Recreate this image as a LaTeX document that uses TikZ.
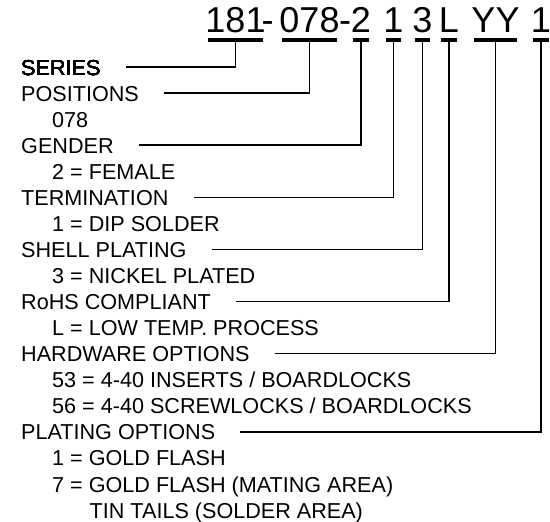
\documentclass[tikz,border=0pt]{standalone}
\usepackage{fontspec}
\setmainfont{Liberation Sans}
\tikzset{
  lbl/.style={anchor=base west,inner sep=0pt,font=\fontsize{21.6}{24}\selectfont},
  pn/.style={anchor=base,inner sep=0pt,font=\fontsize{36}{40}\selectfont},
  uln/.style={line width=3.5pt},
  lead/.style={line width=1.5pt},
}
% underline one field of the part number
\newcommand{\fieldline}[1]{\draw[uln] ([xshift=2.5pt,yshift=-7pt]#1.base west) -- ([xshift=-2.5pt,yshift=-7pt]#1.base east);}
\begin{document}
\begin{tikzpicture}[x=1pt,y=-1pt]
\useasboundingbox (0,0) rectangle (550,522);
% part number
\node[pn] (pser) at (235.5,33) {181};
\node[pn] (dasha) at (267.5,33) {-};
\node[pn] (ppos) at (309.5,33) {078};
\node[pn] (dashb) at (345,33) {-};
\node[pn] (pgen) at (361,33) {2};
\node[pn] (pterm) at (393.5,33) {1};
\node[pn] (pshell) at (422.5,33) {3};
\node[pn] (prohs) at (449,33) {L};
\node[pn] (phard) at (495.5,33) {YY};
\node[pn] (pplat) at (541,33) {1};
\foreach \f in {pser,ppos,pgen,pterm,pshell,prohs,phard,pplat}
  \fieldline{\f}
% labels
\node[lbl] (series) at (21,75.2) {SERIES};
\node[lbl] (positions) at (21,101.1) {POSITIONS};
\node[lbl] (posval) at (52,127.1) {078};
\node[lbl] (gender) at (21,153.2) {GENDER};
\node[lbl] (genval) at (52,179.2) {2 = FEMALE};
\node[lbl] (termination) at (21,205.3) {TERMINATION};
\node[lbl] (termval) at (52,231.4) {1 = DIP SOLDER};
\node[lbl] (shell) at (21,257.4) {SHELL PLATING};
\node[lbl] (shellval) at (52,283.5) {3 = NICKEL PLATED};
\node[lbl] (rohs) at (21,309.5) {RoHS COMPLIANT};
\node[lbl] (rohsval) at (52,335.6) {L = LOW TEMP. PROCESS};
\node[lbl] (hardware) at (21,361.7) {HARDWARE OPTIONS};
\node[lbl] (hardvala) at (52,387.7) {53 = 4-40 INSERTS / BOARDLOCKS};
\node[lbl] (hardvalb) at (52,413.8) {56 = 4-40 SCREWLOCKS / BOARDLOCKS};
\node[lbl] (plating) at (21,439.8) {PLATING OPTIONS};
\node[lbl] (platvala) at (52,465.9) {1 = GOLD FLASH};
\node[lbl] (platvalb) at (52,492) {7 = GOLD FLASH (MATING AREA)};
\node[lbl] (platvalc) at (89.5,518) {TIN TAILS (SOLDER AREA)};
% leaders
\foreach \f/\l in {pser/series,ppos/positions,pgen/gender,pterm/termination,pshell/shell,prohs/rohs,phard/hardware,pplat/plating}
  \draw[lead] ([yshift=-7pt]\f.base) |- ([xshift=25pt,yshift=8pt]\l.base east);
\end{tikzpicture}
\end{document}
